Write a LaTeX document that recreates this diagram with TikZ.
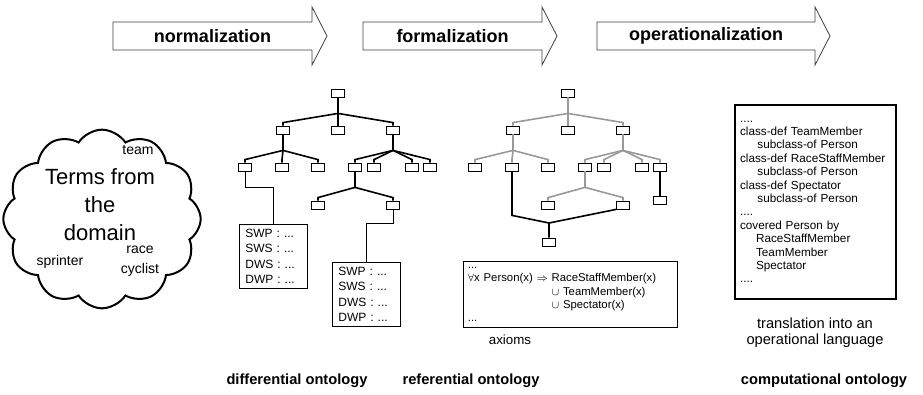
\documentclass[tikz,border=0pt]{standalone}
\usepackage{fontspec}
\setmainfont{Liberation Sans}
\usepackage{tikz}
\usetikzlibrary{calc}
\usetikzlibrary{shapes.symbols}

\newcommand{\fork}[3]{%
  \draw[edge,color=#1] (#2.south) -- ++(0,16) coordinate (j);
  \foreach \c in {#3}{\draw[edge,color=#1] (j) -- ($(\c.north)+(0,-3)$) -- (\c.north);}
}
\newcommand{\phasearrow}[2]{%
  \draw[phase] (#1,22) -- (#2,22) -- (#2,7) -- (#2+15,36) -- (#2,65) -- (#2,50) -- (#1,50) -- cycle;
}

\begin{document}
\begin{tikzpicture}[x=0.75pt,y=-0.75pt,semithick]
  \tikzstyle{cls}=[draw, fill=white, minimum width=9.75pt, minimum height=6pt, inner sep=0pt, line width=0.6pt]
  \tikzstyle{edge}=[line width=1.2pt]
  \tikzstyle{hl}=[line width=1.2pt, black]
  \tikzstyle{link}=[line width=0.7pt]
  \tikzstyle{phase}=[draw=black!75, fill=white, line width=0.6pt]
  \tikzstyle{phasetext}=[font=\bfseries\fontsize{13.5}{16}\selectfont]
  \tikzstyle{onto}=[font=\bfseries\fontsize{11}{13}\selectfont]
  \tikzstyle{term}=[font=\fontsize{10.5}{15}\selectfont, inner sep=0pt, align=center]
  \tikzstyle{slotbox}=[draw, anchor=north west, align=left, text width=42pt, inner xsep=4.5pt, minimum height=48pt, line width=0.6pt, font=\fontsize{9}{11.6}\selectfont]
  \useasboundingbox (0,0) rectangle (923,395);

  \phasearrow{113}{312}
  \phasearrow{363}{542}
  \phasearrow{597}{815}
  \node[phasetext] (norm) at (212.5,36) {normalization};
  \node[phasetext] (form) at (452.5,36) {formalization};
  \node[phasetext] (oper) at (706,36) {operationalization};

  \node[cloud, draw, line width=1.5pt, cloud puffs=12, cloud puff arc=115, cloud ignores aspect,
        minimum width=148pt, minimum height=134pt] (domain) at (102,219) {};
  \node[font=\fontsize{16.5}{21}\selectfont, align=center] (terms) at (100,205) {Terms from\\the\\domain};
  \node[term] (team) at (138,150) {team};
  \node[term] (race) at (140,261) {race\\cyclist};
  \node[term] (sprinter) at (60,262) {sprinter};

  \foreach \t/\dx/\col in {d/0/black, r/230/black!40}{
    \foreach \n/\x/\y in {0/338/93, 1/283/130, 2/338/130, 3/393/130,
                          11/245/167, 12/282/167, 13/318/167,
                          31/355/167, 32/374/167, 33/412/167, 34/430/167,
                          311/318/205, 312/393/205}
      \node[cls] (\t\n) at (\x+\dx,\y) {};
    \fork{\col}{\t0}{\t1,\t2,\t3}
    \fork{\col}{\t1}{\t11,\t12,\t13}
    \fork{\col}{\t3}{\t31,\t32,\t33,\t34}
    \fork{\col}{\t31}{\t311,\t312}
  }

  \node[slotbox] (swa) at (239,224) {SWP : ...\\SWS : ...\\DWS : ...\\DWP : ...};
  \node[slotbox, minimum height=47pt] (swb) at (332,262) {SWP : ...\\SWS : ...\\DWS : ...\\DWP : ...};
  \draw[link] (d11.south) -- ++(0,16) -| (swa.north);
  \draw[link] (d312.south) -- ++(0,14) -| (swb.north);

  \node[cls] (r341) at (660,200) {};
  \node[cls] (rall) at (549,242) {};
  \coordinate (m) at (549,223);
  \draw[hl] (r12.south) -- ($(r12.south)+(0,44)$) -- (m) -- (rall.north);
  \draw[hl] (r312.south west) -- (m);
  \draw[hl] (r34.south) -- (r341.north);

  \node[draw, anchor=north west, align=left, text width=154pt, inner xsep=3.4pt, minimum height=49.5pt,
        line width=0.6pt, font=\fontsize{8.5}{10}\selectfont] (ax) at (463,261)
    {...\\
     $\forall$x Person(x) $\Rightarrow$ RaceStaffMember(x)\\
     \phantom{$\forall$x Person(x) $\Rightarrow$ }$\cup$ TeamMember(x)\\
     \phantom{$\forall$x Person(x) $\Rightarrow$ }$\cup$ Spectator(x)\\
     ...};
  \node[font=\fontsize{10}{12}\selectfont] (axioms) at (510,340) {axioms};

  \node[draw, anchor=north west, align=left, text width=113pt, inner xsep=3.9pt, minimum height=145.5pt,
        line width=1.3pt, font=\fontsize{8.8}{10.05}\selectfont] (ops) at (734,104)
    {....\\
     class-def TeamMember\\
     \hspace*{13pt}subclass-of Person\\
     class-def RaceStaffMember\\
     \hspace*{13pt}subclass-of Person\\
     class-def Spectator\\
     \hspace*{13pt}subclass-of Person\\
     ....\\
     covered Person by\\
     \hspace*{12pt}RaceStaffMember\\
     \hspace*{12pt}TeamMember\\
     \hspace*{12pt}Spectator\\
     ....};
  \node[font=\fontsize{11}{12}\selectfont, align=center] (trans) at (815,333) {translation into an\\operational language};

  \node[onto] (diff) at (297,381) {differential ontology};
  \node[onto] (refe) at (471,381) {referential ontology};
  \node[onto] (comp) at (824,381) {computational ontology};
\end{tikzpicture}
\end{document}
